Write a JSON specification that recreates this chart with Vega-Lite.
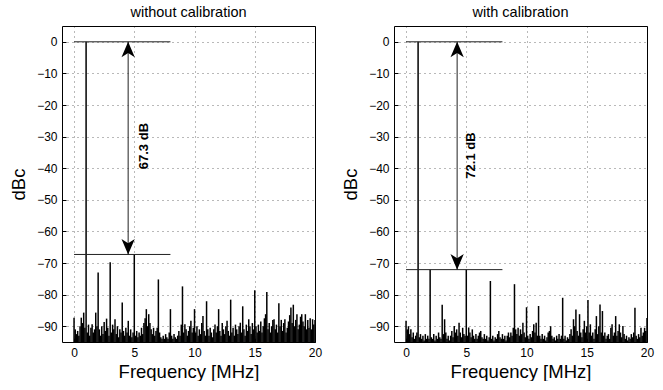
{
"$schema":"https://vega.github.io/schema/vega-lite/v6.json",
"padding":{"left":9,"top":4,"right":6,"bottom":0},
"spacing":18,
"datasets":{
"L":[{"f":0,"p":-87.3},{"f":0.1,"p":-91},{"f":0.2,"p":-92.5},{"f":0.3,"p":-91.5},{"f":0.4,"p":-93},{"f":0.5,"p":-90},{"f":0.6,"p":-87.3},{"f":0.7,"p":-89},{"f":0.8,"p":-85.7},{"f":0.9,"p":-90.5},
{"f":1,"p":0},{"f":1.1,"p":-92},{"f":1.2,"p":-89.5},{"f":1.3,"p":-93},{"f":1.4,"p":-90.5},{"f":1.5,"p":-89.4},{"f":1.6,"p":-92},{"f":1.7,"p":-91},{"f":1.8,"p":-85.7},{"f":1.9,"p":-90},
{"f":2,"p":-73},{"f":2.1,"p":-91},{"f":2.2,"p":-93},{"f":2.3,"p":-90},{"f":2.4,"p":-92.5},{"f":2.5,"p":-88.7},{"f":2.6,"p":-91.5},{"f":2.7,"p":-87.6},{"f":2.8,"p":-90.5},{"f":2.9,"p":-93},
{"f":3,"p":-69.8},{"f":3.1,"p":-92},{"f":3.2,"p":-89.5},{"f":3.3,"p":-91},{"f":3.4,"p":-87.8},{"f":3.5,"p":-92.5},{"f":3.6,"p":-90},{"f":3.7,"p":-93.5},{"f":3.8,"p":-91},{"f":3.9,"p":-92},
{"f":4,"p":-82.5},{"f":4.1,"p":-91.5},{"f":4.2,"p":-93},{"f":4.3,"p":-90.5},{"f":4.4,"p":-92},{"f":4.5,"p":-88.3},{"f":4.6,"p":-93},{"f":4.7,"p":-91},{"f":4.8,"p":-93.5},{"f":4.9,"p":-92},
{"f":5,"p":-67.3},{"f":5.1,"p":-93},{"f":5.2,"p":-91.5},{"f":5.3,"p":-93.5},{"f":5.4,"p":-92},{"f":5.5,"p":-93},{"f":5.6,"p":-90.5},{"f":5.7,"p":-92.5},{"f":5.8,"p":-89},{"f":5.9,"p":-87.5},
{"f":6,"p":-84.6},{"f":6.1,"p":-90},{"f":6.2,"p":-86.2},{"f":6.3,"p":-89},{"f":6.4,"p":-91},{"f":6.5,"p":-92.5},{"f":6.6,"p":-90.5},{"f":6.7,"p":-93},{"f":6.8,"p":-91.5},{"f":6.9,"p":-90.5},
{"f":7,"p":-75.2},{"f":7.1,"p":-92},{"f":7.2,"p":-93.5},{"f":7.3,"p":-94},{"f":7.4,"p":-93},{"f":7.5,"p":-94},{"f":7.6,"p":-92.5},{"f":7.7,"p":-93.5},{"f":7.8,"p":-94},{"f":7.9,"p":-92},
{"f":8,"p":-84.6},{"f":8.1,"p":-93},{"f":8.2,"p":-94},{"f":8.3,"p":-92.5},{"f":8.4,"p":-93.5},{"f":8.5,"p":-94},{"f":8.6,"p":-93},{"f":8.7,"p":-91.5},{"f":8.8,"p":-93},{"f":8.9,"p":-89.5},
{"f":9,"p":-77.4},{"f":9.1,"p":-92},{"f":9.2,"p":-89.4},{"f":9.3,"p":-91},{"f":9.4,"p":-93},{"f":9.5,"p":-91.5},{"f":9.6,"p":-90},{"f":9.7,"p":-88.3},{"f":9.8,"p":-92},{"f":9.9,"p":-90.5},
{"f":10,"p":-84.6},{"f":10.1,"p":-92},{"f":10.2,"p":-90},{"f":10.3,"p":-93},{"f":10.4,"p":-91},{"f":10.5,"p":-92.5},{"f":10.6,"p":-89},{"f":10.7,"p":-86.8},{"f":10.8,"p":-91.5},{"f":10.9,"p":-93},
{"f":11,"p":-82.1},{"f":11.1,"p":-91},{"f":11.2,"p":-93},{"f":11.3,"p":-90.5},{"f":11.4,"p":-92},{"f":11.5,"p":-93.5},{"f":11.6,"p":-91},{"f":11.7,"p":-89.5},{"f":11.8,"p":-92},{"f":11.9,"p":-90},
{"f":12,"p":-84.6},{"f":12.1,"p":-91.5},{"f":12.2,"p":-93},{"f":12.3,"p":-89},{"f":12.4,"p":-91},{"f":12.5,"p":-92.5},{"f":12.6,"p":-90},{"f":12.7,"p":-88.3},{"f":12.8,"p":-91.5},{"f":12.9,"p":-93},
{"f":13,"p":-81.6},{"f":13.1,"p":-92},{"f":13.2,"p":-90.5},{"f":13.3,"p":-93},{"f":13.4,"p":-89.5},{"f":13.5,"p":-91},{"f":13.6,"p":-92.5},{"f":13.7,"p":-90},{"f":13.8,"p":-88.9},{"f":13.9,"p":-92},
{"f":14,"p":-83.7},{"f":14.1,"p":-91},{"f":14.2,"p":-93},{"f":14.3,"p":-89.5},{"f":14.4,"p":-91.5},{"f":14.5,"p":-87.8},{"f":14.6,"p":-90},{"f":14.7,"p":-92.5},{"f":14.8,"p":-89},{"f":14.9,"p":-91},
{"f":15,"p":-78.6},{"f":15.1,"p":-90},{"f":15.2,"p":-92},{"f":15.3,"p":-89.5},{"f":15.4,"p":-91.5},{"f":15.5,"p":-88.5},{"f":15.6,"p":-92},{"f":15.7,"p":-90},{"f":15.8,"p":-87.5},{"f":15.9,"p":-86.2},
{"f":16,"p":-79.2},{"f":16.1,"p":-91},{"f":16.2,"p":-89},{"f":16.3,"p":-92},{"f":16.4,"p":-90},{"f":16.5,"p":-88},{"f":16.6,"p":-87.8},{"f":16.7,"p":-91},{"f":16.8,"p":-89.5},{"f":16.9,"p":-92},
{"f":17,"p":-82.7},{"f":17.1,"p":-90},{"f":17.2,"p":-88},{"f":17.3,"p":-91.5},{"f":17.4,"p":-89},{"f":17.5,"p":-87.8},{"f":17.6,"p":-92},{"f":17.7,"p":-90.5},{"f":17.8,"p":-88.5},{"f":17.9,"p":-86.5},
{"f":18,"p":-84.1},{"f":18.1,"p":-89},{"f":18.2,"p":-83.2},{"f":18.3,"p":-90},{"f":18.4,"p":-88},{"f":18.5,"p":-86.2},{"f":18.6,"p":-91},{"f":18.7,"p":-89.5},{"f":18.8,"p":-87},{"f":18.9,"p":-86.2},
{"f":19,"p":-88.5},{"f":19.1,"p":-90},{"f":19.2,"p":-86.2},{"f":19.3,"p":-91},{"f":19.4,"p":-88},{"f":19.5,"p":-90.5},{"f":19.6,"p":-87.5},{"f":19.7,"p":-91},{"f":19.8,"p":-87.8},{"f":19.9,"p":-89.5},{"f":20,"p":-88}],
"R":[{"f":0,"p":-88.3},{"f":0.1,"p":-91},{"f":0.2,"p":-90},{"f":0.3,"p":-92.5},{"f":0.4,"p":-91},{"f":0.5,"p":-93.5},{"f":0.6,"p":-92},{"f":0.7,"p":-94},{"f":0.8,"p":-93},{"f":0.9,"p":-92},
{"f":1,"p":0},{"f":1.1,"p":-93.5},{"f":1.2,"p":-92.5},{"f":1.3,"p":-94},{"f":1.4,"p":-93},{"f":1.5,"p":-94.5},{"f":1.6,"p":-92.5},{"f":1.7,"p":-94},{"f":1.8,"p":-93},{"f":1.9,"p":-94},
{"f":2,"p":-72.1},{"f":2.1,"p":-93.5},{"f":2.2,"p":-94},{"f":2.3,"p":-92.5},{"f":2.4,"p":-94.5},{"f":2.5,"p":-93},{"f":2.6,"p":-94},{"f":2.7,"p":-92},{"f":2.8,"p":-93.5},{"f":2.9,"p":-94},
{"f":3,"p":-83.2},{"f":3.1,"p":-92.5},{"f":3.2,"p":-87.8},{"f":3.3,"p":-92},{"f":3.4,"p":-94},{"f":3.5,"p":-93},{"f":3.6,"p":-94.5},{"f":3.7,"p":-93},{"f":3.8,"p":-91.5},{"f":3.9,"p":-93.5},
{"f":4,"p":-89.9},{"f":4.1,"p":-92},{"f":4.2,"p":-91},{"f":4.3,"p":-93},{"f":4.4,"p":-88.9},{"f":4.5,"p":-92},{"f":4.6,"p":-93.5},{"f":4.7,"p":-90.5},{"f":4.8,"p":-92.5},{"f":4.9,"p":-93},
{"f":5,"p":-72.1},{"f":5.1,"p":-93},{"f":5.2,"p":-90.4},{"f":5.3,"p":-92},{"f":5.4,"p":-93.5},{"f":5.5,"p":-91},{"f":5.6,"p":-93},{"f":5.7,"p":-94},{"f":5.8,"p":-92.5},{"f":5.9,"p":-94},
{"f":6,"p":-93},{"f":6.1,"p":-92},{"f":6.2,"p":-91.5},{"f":6.3,"p":-93.5},{"f":6.4,"p":-94},{"f":6.5,"p":-92.5},{"f":6.6,"p":-94},{"f":6.7,"p":-93},{"f":6.8,"p":-94.5},{"f":6.9,"p":-93.5},
{"f":7,"p":-75.7},{"f":7.1,"p":-94},{"f":7.2,"p":-93},{"f":7.3,"p":-94.5},{"f":7.4,"p":-93.5},{"f":7.5,"p":-94},{"f":7.6,"p":-92.5},{"f":7.7,"p":-91.5},{"f":7.8,"p":-93.5},{"f":7.9,"p":-94},
{"f":8,"p":-92.5},{"f":8.1,"p":-94},{"f":8.2,"p":-93},{"f":8.3,"p":-94.5},{"f":8.4,"p":-93},{"f":8.5,"p":-92},{"f":8.6,"p":-93.5},{"f":8.7,"p":-92},{"f":8.8,"p":-93},{"f":8.9,"p":-90.5},
{"f":9,"p":-76.7},{"f":9.1,"p":-91},{"f":9.2,"p":-92.5},{"f":9.3,"p":-90.5},{"f":9.4,"p":-93},{"f":9.5,"p":-91},{"f":9.6,"p":-92.5},{"f":9.7,"p":-88.9},{"f":9.8,"p":-92},{"f":9.9,"p":-93.5},
{"f":10,"p":-84},{"f":10.1,"p":-93},{"f":10.2,"p":-94},{"f":10.3,"p":-92.5},{"f":10.4,"p":-93.5},{"f":10.5,"p":-91.5},{"f":10.6,"p":-89.4},{"f":10.7,"p":-92},{"f":10.8,"p":-88.9},{"f":10.9,"p":-93},
{"f":11,"p":-83.6},{"f":11.1,"p":-93},{"f":11.2,"p":-94},{"f":11.3,"p":-92.5},{"f":11.4,"p":-94},{"f":11.5,"p":-93},{"f":11.6,"p":-94.5},{"f":11.7,"p":-93.5},{"f":11.8,"p":-92},{"f":11.9,"p":-91.5},
{"f":12,"p":-90},{"f":12.1,"p":-93},{"f":12.2,"p":-94},{"f":12.3,"p":-93.5},{"f":12.4,"p":-94.5},{"f":12.5,"p":-93},{"f":12.6,"p":-94},{"f":12.7,"p":-92.5},{"f":12.8,"p":-94},{"f":12.9,"p":-93},
{"f":13,"p":-81},{"f":13.1,"p":-94},{"f":13.2,"p":-93},{"f":13.3,"p":-94.5},{"f":13.4,"p":-93.5},{"f":13.5,"p":-94},{"f":13.6,"p":-92.5},{"f":13.7,"p":-91},{"f":13.8,"p":-93},{"f":13.9,"p":-87.8},
{"f":14,"p":-90},{"f":14.1,"p":-84.7},{"f":14.2,"p":-91.5},{"f":14.3,"p":-93},{"f":14.4,"p":-86.2},{"f":14.5,"p":-92},{"f":14.6,"p":-93.5},{"f":14.7,"p":-91},{"f":14.8,"p":-88.3},{"f":14.9,"p":-92},
{"f":15,"p":-90},{"f":15.1,"p":-81.7},{"f":15.2,"p":-92},{"f":15.3,"p":-89.4},{"f":15.4,"p":-93},{"f":15.5,"p":-92},{"f":15.6,"p":-94},{"f":15.7,"p":-91},{"f":15.8,"p":-86.8},{"f":15.9,"p":-92.5},
{"f":16,"p":-90},{"f":16.1,"p":-83.1},{"f":16.2,"p":-92},{"f":16.3,"p":-85.2},{"f":16.4,"p":-93},{"f":16.5,"p":-92},{"f":16.6,"p":-94},{"f":16.7,"p":-93},{"f":16.8,"p":-92.5},{"f":16.9,"p":-94},
{"f":17,"p":-90.5},{"f":17.1,"p":-89.4},{"f":17.2,"p":-93},{"f":17.3,"p":-92},{"f":17.4,"p":-86.8},{"f":17.5,"p":-93},{"f":17.6,"p":-91.5},{"f":17.7,"p":-89.4},{"f":17.8,"p":-92},{"f":17.9,"p":-93.5},
{"f":18,"p":-89.9},{"f":18.1,"p":-92.5},{"f":18.2,"p":-94},{"f":18.3,"p":-93},{"f":18.4,"p":-94.5},{"f":18.5,"p":-93.5},{"f":18.6,"p":-94},{"f":18.7,"p":-92.5},{"f":18.8,"p":-93.5},{"f":18.9,"p":-92},
{"f":19,"p":-84.2},{"f":19.1,"p":-93},{"f":19.2,"p":-94},{"f":19.3,"p":-92.5},{"f":19.4,"p":-93.5},{"f":19.5,"p":-90.5},{"f":19.6,"p":-93},{"f":19.7,"p":-92},{"f":19.8,"p":-90.5},{"f":19.9,"p":-91.5},{"f":20,"p":-87.4}],
"Llines":[{"x1":0,"x2":8,"y1":0,"y2":0},{"x1":0,"x2":8,"y1":-67.3,"y2":-67.3},{"x1":4.49,"x2":4.49,"y1":0,"y2":-67.3}],
"Rlines":[{"x1":0,"x2":8,"y1":0,"y2":0},{"x1":0,"x2":8,"y1":-72.1,"y2":-72.1},{"x1":4.24,"x2":4.24,"y1":0,"y2":-72.1}],
"Lheads":[{"x":4.49,"y":0,"dir":"up"},{"x":4.49,"y":-67.3,"dir":"down"}],
"Rheads":[{"x":4.24,"y":0,"dir":"up"},{"x":4.24,"y":-72.1,"dir":"down"}],
"Ltext":[{"x":5.8,"y":-33,"label":"67.3 dB"}],
"Rtext":[{"x":5.4,"y":-36,"label":"72.1 dB"}]
},
"hconcat":[
{"width":253,"height":316,"title":"without calibration",
"layer":[
{"data":{"name":"L"},"mark":{"type":"rule","color":"black","strokeWidth":1.5,"clip":true},
"encoding":{"x":{"field":"f","type":"quantitative","scale":{"domain":[-1,20],"nice":false,"zero":false},"axis":{"values":[0,5,10,15,20],"title":"Frequency [MHz]"}},
"y":{"field":"p","type":"quantitative","scale":{"domain":[-95,5],"nice":false,"zero":false},"axis":{"tickCount":10,"labelOverlap":false,"title":"dBc","titlePadding":8}},
"y2":{"datum":-95}}},
{"data":{"name":"Llines"},"mark":{"type":"rule","color":"#222","strokeWidth":1},
"encoding":{"x":{"field":"x1","type":"quantitative"},"x2":{"field":"x2"},"y":{"field":"y1","type":"quantitative"},"y2":{"field":"y2"}}},
{"data":{"name":"Lheads"},"mark":{"type":"point","filled":true,"color":"black","size":800,"opacity":1},
"encoding":{"x":{"field":"x","type":"quantitative"},"y":{"field":"y","type":"quantitative"},
"shape":{"field":"dir","type":"nominal","scale":{"domain":["up","down"],"range":["M0,0 L0.47,1.1 L0,0.8 L-0.47,1.1 Z","M0,0 L0.47,-1.1 L0,-0.8 L-0.47,-1.1 Z"]},"legend":null}}},
{"data":{"name":"Ltext"},"mark":{"type":"text","angle":270,"fontWeight":"bold","fontSize":13,"font":"Liberation Sans","color":"black","align":"center","baseline":"middle"},
"encoding":{"x":{"field":"x","type":"quantitative"},"y":{"field":"y","type":"quantitative"},"text":{"field":"label"}}}
]},
{"width":253,"height":316,"title":"with calibration",
"layer":[
{"data":{"name":"R"},"mark":{"type":"rule","color":"black","strokeWidth":1.5,"clip":true},
"encoding":{"x":{"field":"f","type":"quantitative","scale":{"domain":[-1,20],"nice":false,"zero":false},"axis":{"values":[0,5,10,15,20],"title":"Frequency [MHz]"}},
"y":{"field":"p","type":"quantitative","scale":{"domain":[-95,5],"nice":false,"zero":false},"axis":{"tickCount":10,"labelOverlap":false,"title":"dBc","titlePadding":8}},
"y2":{"datum":-95}}},
{"data":{"name":"Rlines"},"mark":{"type":"rule","color":"#222","strokeWidth":1},
"encoding":{"x":{"field":"x1","type":"quantitative"},"x2":{"field":"x2"},"y":{"field":"y1","type":"quantitative"},"y2":{"field":"y2"}}},
{"data":{"name":"Rheads"},"mark":{"type":"point","filled":true,"color":"black","size":800,"opacity":1},
"encoding":{"x":{"field":"x","type":"quantitative"},"y":{"field":"y","type":"quantitative"},
"shape":{"field":"dir","type":"nominal","scale":{"domain":["up","down"],"range":["M0,0 L0.47,1.1 L0,0.8 L-0.47,1.1 Z","M0,0 L0.47,-1.1 L0,-0.8 L-0.47,-1.1 Z"]},"legend":null}}},
{"data":{"name":"Rtext"},"mark":{"type":"text","angle":270,"fontWeight":"bold","fontSize":13,"font":"Liberation Sans","color":"black","align":"center","baseline":"middle"},
"encoding":{"x":{"field":"x","type":"quantitative"},"y":{"field":"y","type":"quantitative"},"text":{"field":"label"}}}
]}
],
"config":{
"background":"white",
"view":{"stroke":"black","strokeWidth":1},
"axis":{"domain":false,"ticks":true,"tickSize":-4,"tickColor":"black","tickWidth":1,"labelPadding":9,"labelFlush":false,"labelFont":"Liberation Sans","labelFontSize":12,"labelColor":"black","titleFont":"Liberation Sans","titleFontSize":18.5,"titleFontWeight":"normal","titleColor":"black","titlePadding":4,"grid":true,"gridColor":"black","gridDash":[1,4],"gridOpacity":0.55,"gridWidth":1},
"title":{"font":"Liberation Sans","fontSize":14.5,"fontWeight":"normal","color":"black","offset":6}
}
}
